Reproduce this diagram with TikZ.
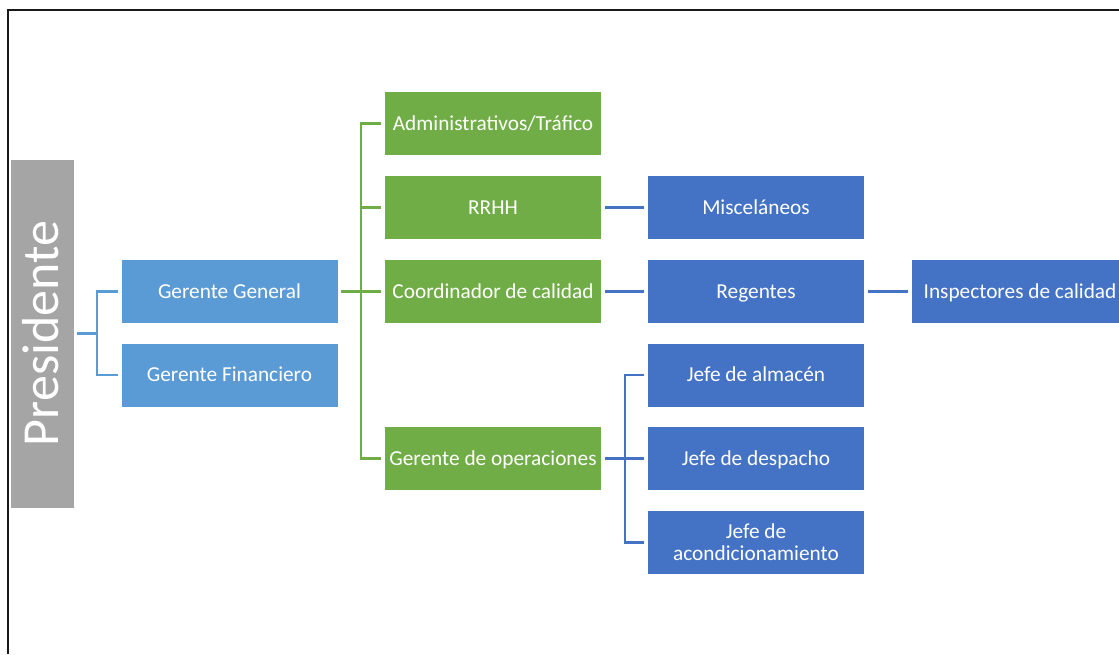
\documentclass[tikz,border=0pt]{standalone}
\usepackage{fontspec}
\setmainfont{Carlito}
\definecolor{midblue}{HTML}{5B9BD5}
\definecolor{leafgreen}{HTML}{70AD47}
\definecolor{deepblue}{HTML}{4472C4}
\definecolor{slate}{HTML}{A5A5A5}
\tikzset{
  orgbox/.style={rectangle, draw=white, line width=0.5pt, text=white,
    minimum width=217pt, minimum height=64pt, inner sep=2pt, align=center,
    text height=13.5pt, text depth=0pt,
    font=\fontsize{21.3}{22}\selectfont},
  tierone/.style={orgbox, fill=midblue},
  tiertwo/.style={orgbox, fill=leafgreen},
  tierthree/.style={orgbox, fill=deepblue},
  headbox/.style={rectangle, fill=slate, draw=white, line width=0.5pt,
    minimum width=64pt, minimum height=349pt, inner sep=0pt},
  linkone/.style={draw=midblue, line width=2.3pt},
  linktwo/.style={draw=leafgreen, line width=2.3pt},
  linkthree/.style={draw=deepblue, line width=2.3pt},
}
\begin{document}
\begin{tikzpicture}[x=1pt, y=-1pt]
\useasboundingbox (0,0) rectangle (1119,654);
\clip (0,0) rectangle (1119,654);

% page frame (top and left edges)
\draw[line width=2pt, black!90] (8,654) -- (8,10) -- (1119,10);

% head of the organisation
\node[headbox] (pres) at (42,333.5) {};
\node[text=white, rotate=90, font=\fontsize{52}{56}\selectfont, inner sep=0pt] (prestext) at (41,333.5) {Presidente};

% first level
\node[tierone] (gg) at (229.5,291.5) {Gerente General};
\node[tierone] (gf) at (229.5,375) {Gerente Financiero};

% second level
\node[tiertwo] (adm)   at (493,123.5) {Administrativos/Tráfico};
\node[tiertwo] (rrhh)  at (493,207.5) {RRHH};
\node[tiertwo] (coord) at (493,291.5) {Coordinador de calidad};
\node[tiertwo] (oper)  at (493,458.5) {Gerente de operaciones};

% third level
\node[tierthree] (misc)  at (756,207.5) {Misceláneos};
\node[tierthree] (reg)   at (756,291.5) {Regentes};
\node[tierthree] (insp)  at (1020,291.5) {Inspectores de calidad};
\node[tierthree] (alm)   at (756,375) {Jefe de almacén};
\node[tierthree] (desp)  at (756,458.5) {Jefe de despacho};
\node[tierthree, text height=35.5pt] (acond) at (756,542.5) {Jefe de\\acondicionamiento};

% connectors: president to managers
\draw[linkone] ([xshift=3pt]pres.east) -- ++(20,0) coordinate (forka);
\draw[linkone] ([xshift=-3pt]gg.west) -| (forka) |- ([xshift=-3pt]gf.west);

% connectors: general manager to departments
\draw[linktwo] ([xshift=3pt]gg.east) -- ++(20,0) coordinate (forkb);
\draw[linktwo] ([xshift=-3pt]adm.west) -| (forkb) |- ([xshift=-3pt]oper.west);
\draw[linktwo] ([xshift=-3pt]rrhh.west) -- (rrhh.west -| forkb);
\draw[linktwo] ([xshift=-3pt]coord.west) -- (forkb);

% connectors: departments to staff
\draw[linkthree] ([xshift=3pt]rrhh.east) -- ([xshift=-3pt]misc.west);
\draw[linkthree] ([xshift=3pt]coord.east) -- ([xshift=-3pt]reg.west);
\draw[linkthree] ([xshift=3pt]reg.east) -- ([xshift=-3pt]insp.west);
\draw[linkthree] ([xshift=3pt]oper.east) -- ++(20,0) coordinate (forkc);
\draw[linkthree] ([xshift=-3pt]alm.west) -| (forkc) |- ([xshift=-3pt]acond.west);
\draw[linkthree] ([xshift=-3pt]desp.west) -- (forkc);
\end{tikzpicture}
\end{document}
